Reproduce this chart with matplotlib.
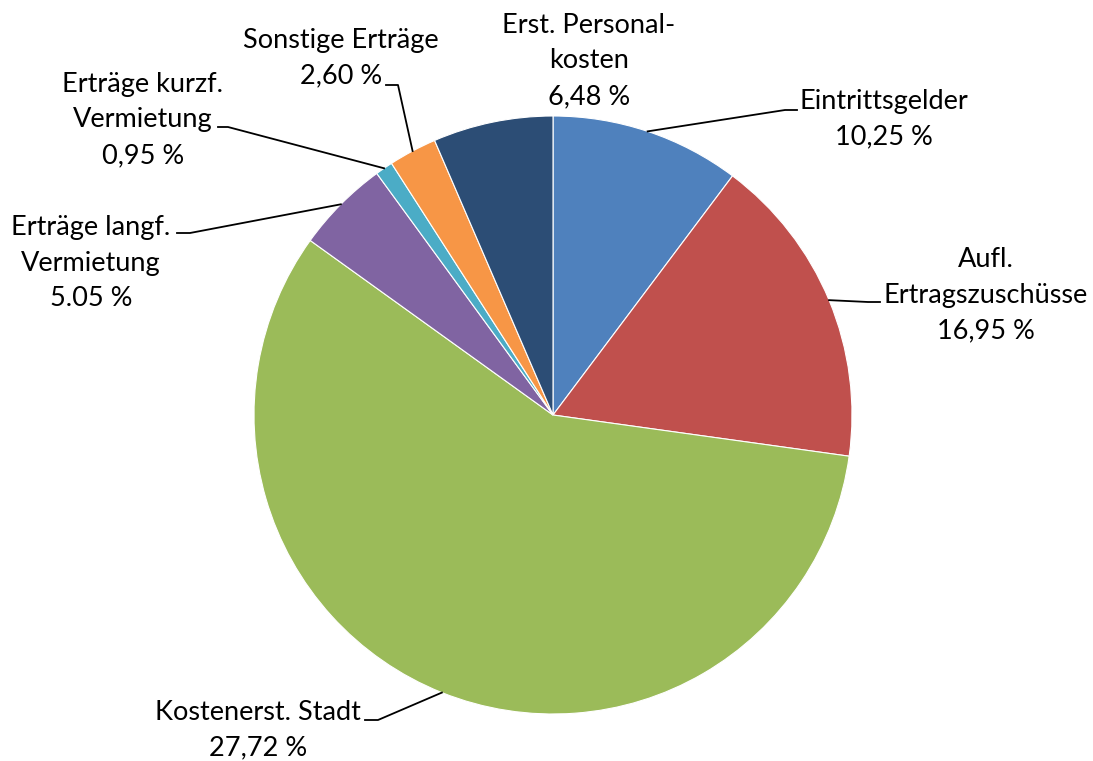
import numpy as np
import matplotlib
matplotlib.use("Agg")
import matplotlib.pyplot as plt

# ==========================================================
# DATA
# ==========================================================

categories = [
    "Eintrittsgelder",
    "Aufl. Ertragszuschüsse",
    "Kostenerst. Stadt",
    "Erträge langf. Vermietung",
    "Erträge kurzf. Vermietung",
    "Sonstige Erträge",
    "Erst. Personalkosten",
]

# slice sizes as drawn (the printed label of the green slice reads 27,72 %)
values = [10.25, 16.95, 57.72, 5.05, 0.95, 2.60, 6.48]

pct_labels = ["10,25 %", "16,95 %", "27,72 %", "5.05 %", "0,95 %", "2,60 %", "6,48 %"]

name_lines = [
    ["Eintrittsgelder"],
    ["Aufl.", "Ertragszuschüsse"],
    ["Kostenerst. Stadt"],
    ["Erträge langf.", "Vermietung"],
    ["Erträge kurzf.", "Vermietung"],
    ["Sonstige Erträge"],
    ["Erst. Personal-", "kosten"],
]

colors = ["#4F81BD", "#C0504D", "#9BBB59", "#8064A2", "#4BACC6", "#F79646", "#2C4D75"]

# ==========================================================
# LAYOUT (pixels, y from top)
# ==========================================================

W, H = 1093, 761
CENTER = (553, 415)
RADIUS = 299
LINE_STEP = 35.5

# label centre x, first baseline y
label_pos = [
    (884, 109),
    (986, 267),
    (258, 720),
    (91, 235),
    (143, 92),
    (341, 48),
    (589, 33),
]

# leader elbow and end points (None = no leader)
leaders = [
    [(785, 110), (797, 110)],
    [(868, 302), (880, 302)],
    [(378, 720), (365, 720)],
    [(190, 233), (177, 233)],
    [(228, 127), (218, 127)],
    [(398, 85), (386, 85)],
    None,
]

plt.rcParams["font.family"] = ["Lato", "DejaVu Sans"]

fig = plt.figure(figsize=(W / 100, H / 100), dpi=100)
ax = fig.add_axes([0, 0, 1, 1])

wedges, _ = ax.pie(
    values,
    colors=colors,
    center=CENTER,
    radius=RADIUS,
    startangle=-90,
    counterclock=True,
    frame=True,
    wedgeprops=dict(edgecolor="white", linewidth=0.8),
)

ax.set_xlim(0, W)
ax.set_ylim(H, 0)
ax.set_aspect("equal")
ax.axis("off")

for i, wedge in enumerate(wedges):

    lines = name_lines[i] + [pct_labels[i]]
    x, y0 = label_pos[i]

    for k, line in enumerate(lines):
        ax.text(
            x, y0 + k * LINE_STEP, line,
            ha="center", va="baseline",
            fontsize=19.5, color="black"
        )

    if leaders[i] is None:
        continue

    mid = np.deg2rad((wedge.theta1 + wedge.theta2) / 2)
    edge = (CENTER[0] + RADIUS * np.cos(mid), CENTER[1] + RADIUS * np.sin(mid))
    pts = [edge] + leaders[i]

    ax.plot(
        [p[0] for p in pts],
        [p[1] for p in pts],
        color="black", linewidth=1.3
    )

fig.savefig("out.png", dpi=100)
